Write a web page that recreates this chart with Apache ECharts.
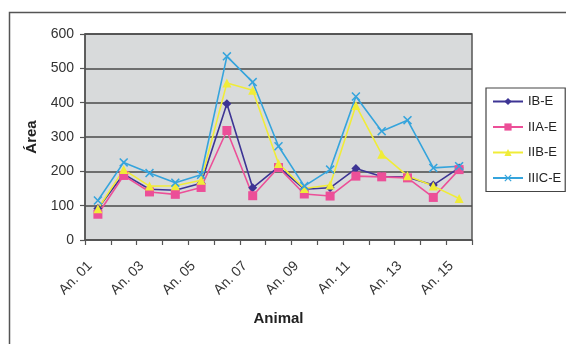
<!DOCTYPE html>
<html>
<head>
<meta charset="utf-8">
<script src="https://cdn.jsdelivr.net/npm/echarts@6/dist/echarts.min.js"></script>
<style>
html,body{margin:0;padding:0;background:#fff;}
#c{width:566px;height:344px;}
</style>
</head>
<body>
<div id="c"></div>
<script>
var categories = ['An. 01','An. 02','An. 03','An. 04','An. 05','An. 06','An. 07','An. 08','An. 09','An. 10','An. 11','An. 12','An. 13','An. 14','An. 15'];
var IB_E   = [92, 192, 148, 145, 165, 397, 152, 213, 148, 152, 208, 185, 183, 160, 210];
var IIA_E  = [75, 188, 140, 133, 153, 319, 129, 211, 134, 128, 186, 184, 181, 124, 205];
var IIB_E  = [91, 205, 157, 158, 174, 457, 436, 223, 150, 160, 392, 250, 187, 157, 121];
var IIIC_E = [115, 226, 195, 167, 190, 535, 460, 273, 157, 205, 418, 317, 349, 210, 215];
var yTicks = [0, 100, 200, 300, 400, 500, 600];

var xPath = 'path://M0,1.2 L1.2,0 L5,3.8 L8.8,0 L10,1.2 L6.2,5 L10,8.8 L8.8,10 L5,6.2 L1.2,10 L0,8.8 L3.8,5 Z';
var font = 'Liberation Sans, Arial, sans-serif';

function mk(name, data, color, symbol, size) {
  return {
    name: name, type: 'line', data: data,
    symbol: symbol, symbolSize: size,
    lineStyle: {color: color, width: 1.6},
    itemStyle: {color: color},
    emphasis: {disabled: true}
  };
}

var chart = echarts.init(document.getElementById('c'), null, {renderer: 'canvas'});
chart.setOption({
  animation: false,
  backgroundColor: '#fff',
  textStyle: {fontFamily: font},
  graphic: [{
    type: 'rect', left: 7, top: 10, z: -10,
    shape: {width: 620, height: 400},
    style: {fill: null, stroke: '#555', lineWidth: 1.5}
  }],
  grid: {left: 85, right: 94, top: 34, bottom: 104, show: true,
         backgroundColor: '#d8dadb', borderColor: '#555', borderWidth: 1.5},
  legend: {
    orient: 'vertical', left: 486, top: 88,
    itemWidth: 30, itemHeight: 9, itemGap: 12.5,
    borderColor: '#444', borderWidth: 1.2,
    padding: [7, 4, 7, 6],
    textStyle: {fontSize: 13, color: '#222', fontFamily: font},
    data: ['IB-E','IIA-E','IIB-E','IIIC-E']
  },
  xAxis: {
    type: 'category', data: categories, boundaryGap: true,
    name: 'Animal', nameLocation: 'middle', nameGap: 71,
    nameTextStyle: {fontSize: 15, fontWeight: 'bold', color: '#222'},
    axisLine: {lineStyle: {color: '#555', width: 1.5}},
    axisTick: {show: true, interval: 0, length: 5, lineStyle: {color: '#555', width: 1.2}},
    axisLabel: {interval: 1, rotate: 45, fontSize: 14, color: '#333', margin: 16, padding: [0, 11, 0, 0]},
  },
  yAxis: {
    type: 'value', min: yTicks[0], max: yTicks[yTicks.length - 1], interval: 100,
    name: 'Área', nameLocation: 'middle', nameGap: 44, nameRotate: 90,
    nameTextStyle: {fontSize: 15, fontWeight: 'bold', color: '#222'},
    axisLine: {show: true, lineStyle: {color: '#555', width: 1.5}},
    axisTick: {show: true, length: 5, lineStyle: {color: '#555', width: 1.2}},
    axisLabel: {fontSize: 14, color: '#333', margin: 11},
    splitLine: {lineStyle: {color: '#4a4a4a', width: 1.5}}
  },
  series: [
    mk('IB-E', IB_E, '#3d3494', 'diamond', 9),
    mk('IIA-E', IIA_E, '#ec4f98', 'rect', 9),
    mk('IIB-E', IIB_E, '#f0ec38', 'triangle', 9),
    mk('IIIC-E', IIIC_E, '#35a4dc', xPath, 9)
  ]
});
</script>
</body>
</html>
